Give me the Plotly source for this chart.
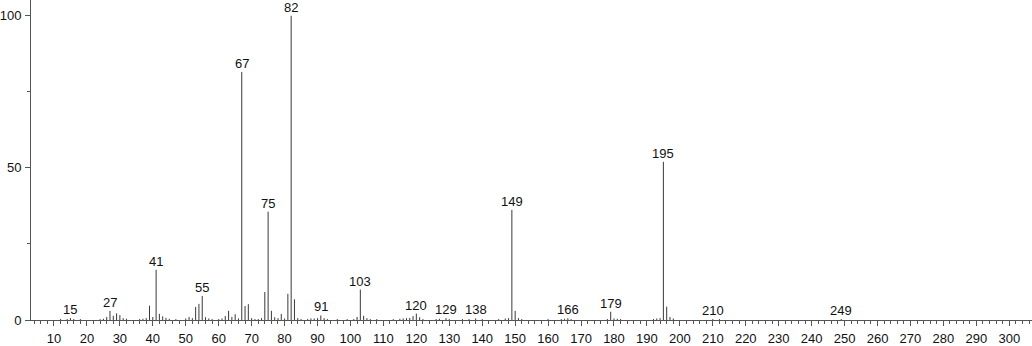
import plotly.graph_objects as go

# m/z values and relative intensities (%)
mz = [12, 14, 15, 16, 18, 24, 25, 26, 27, 28, 29, 30, 31, 32, 36, 37, 38, 39, 40, 41, 42, 43, 44, 45, 47,
      50, 51, 52, 53, 54, 55, 56, 57, 58, 60, 61, 62, 63, 64, 65, 66, 67, 68, 69, 70, 71, 72, 73, 74, 75, 76,
      77, 78, 79, 80, 81, 82, 83, 84, 85, 87, 88, 89, 90, 91, 92, 93, 96, 99, 101, 102, 103, 104, 105, 106,
      108, 113, 115, 116, 117, 118, 119, 120, 121, 122, 126, 127, 129, 130, 134, 136, 138, 140, 145, 147,
      148, 149, 150, 151, 152, 160, 164, 165, 166, 167, 178, 179, 180, 181, 182, 192, 193, 194, 195, 196,
      197, 198, 210, 212, 249]
intensity = [0.3, 0.3, 0.6, 0.3, 0.3, 0.3, 0.4, 1.0, 3.0, 1.4, 2.2, 1.6, 0.6, 0.4, 0.3, 0.4, 0.6, 4.7, 1.0,
             16.5, 2.0, 1.2, 0.7, 0.4, 0.3, 0.5, 1.0, 0.6, 4.3, 5.3, 7.9, 0.9, 0.5, 0.3, 0.3, 0.5, 1.3, 3.0,
             1.0, 1.9, 0.5, 81.5, 4.6, 5.2, 0.6, 0.3, 0.3, 0.6, 9.2, 35.6, 3.0, 0.9, 0.6, 2.0, 0.5, 8.6, 100.0,
             6.8, 0.6, 0.3, 0.3, 0.5, 0.5, 0.6, 1.5, 0.6, 0.3, 0.3, 0.3, 0.3, 1.0, 10.0, 1.4, 0.6, 0.3, 0.3,
             0.3, 0.4, 0.5, 0.6, 0.7, 1.3, 2.1, 0.9, 0.3, 0.3, 0.4, 0.6, 0.3, 0.3, 0.3, 0.5, 0.3, 0.3, 0.5,
             0.6, 36.2, 3.0, 0.6, 0.3, 0.3, 0.3, 0.4, 0.6, 0.3, 0.3, 2.7, 0.5, 0.4, 0.3, 0.3, 0.5, 0.6, 52.0,
             4.4, 1.0, 0.5, 0.3, 0.3, 0.3]

label_mz = [15, 27, 41, 55, 67, 75, 82, 91, 103, 120, 129, 138, 149, 166, 179, 195, 210, 249]

xs, ys = [], []
for m, v in zip(mz, intensity):
    xs += [m, m, None]
    ys += [0, v, None]

lookup = dict(zip(mz, intensity))

fig = go.Figure()
fig.add_trace(go.Scatter(x=xs, y=ys, mode="lines",
                         line=dict(color="#3a3a3a", width=1), hoverinfo="skip", showlegend=False))

for m in label_mz:
    fig.add_annotation(x=m, y=lookup.get(m, 0), text=str(m), showarrow=False,
                       yanchor="bottom", yshift=-1,
                       font=dict(family="Liberation Sans, Arial, sans-serif", size=13, color="#111"))

fig.update_layout(
    width=1032, height=346,
    margin=dict(l=30, r=0, t=0, b=24),
    paper_bgcolor="white", plot_bgcolor="white",
    font=dict(family="Liberation Sans, Arial, sans-serif", size=13, color="#111"),
    xaxis=dict(range=[3.02, 306.9], tick0=0, dtick=10, ticks="outside", ticklen=5, tickwidth=1,
               tickcolor="#555", showline=True, linecolor="#555", linewidth=1, showgrid=False,
               zeroline=False, ticklabelstandoff=1,
               minor=dict(dtick=2, ticks="outside", ticklen=3, tickcolor="#555", showgrid=False)),
    yaxis=dict(range=[0, 105.2], tickvals=[0, 50, 100], ticks="outside", ticklen=5, tickwidth=1,
               tickcolor="#555", showline=True, linecolor="#555", linewidth=1, showgrid=False,
               zeroline=False, ticklabelstandoff=1,
               minor=dict(tickvals=[25, 75], ticks="outside", ticklen=3, tickcolor="#555", showgrid=False)),
)

fig.write_html("out.html")
